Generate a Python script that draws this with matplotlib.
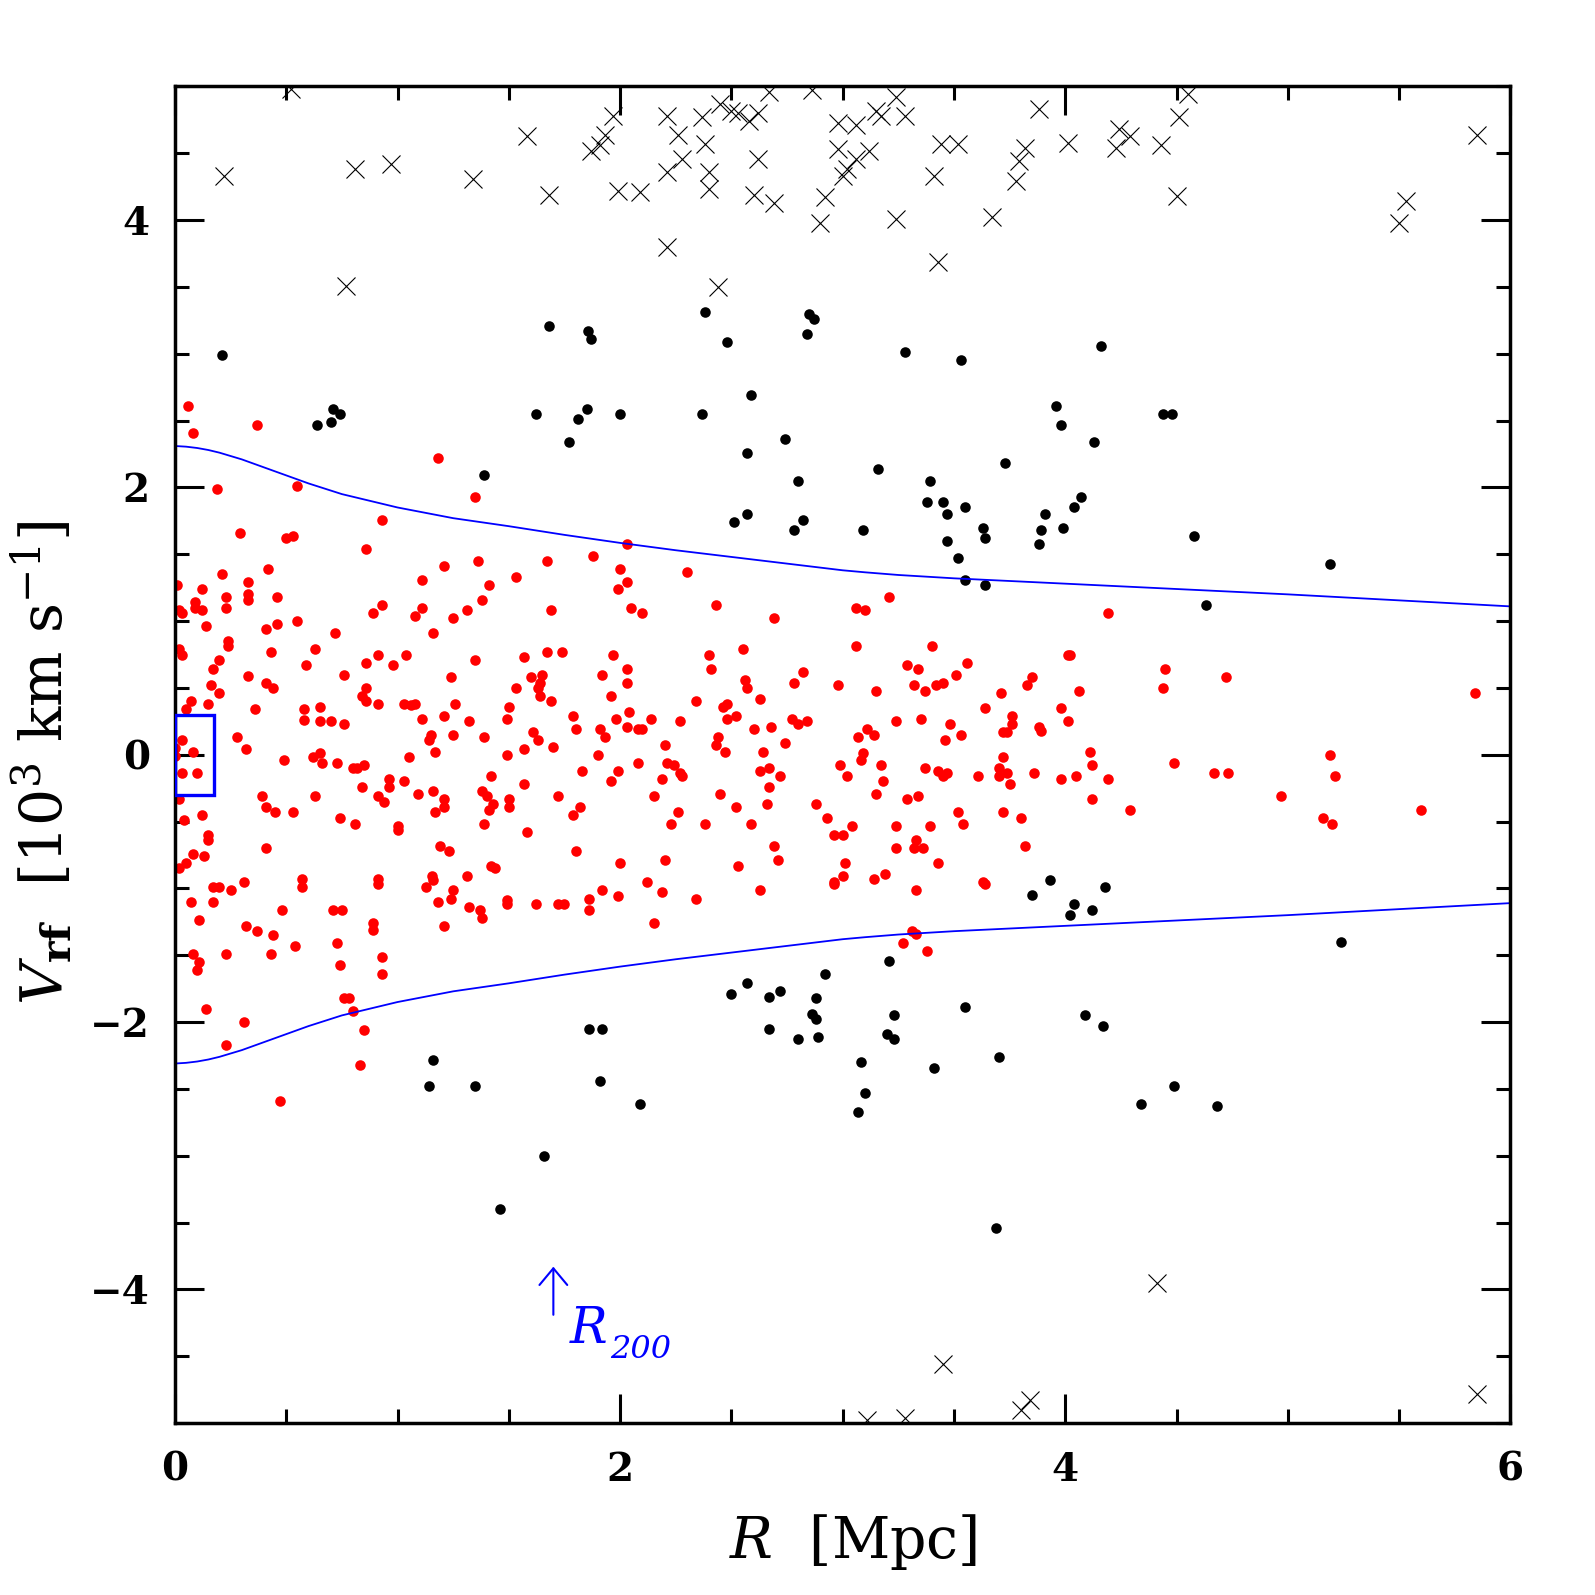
import matplotlib
matplotlib.use("Agg")
import matplotlib.pyplot as plt
from matplotlib.patches import Rectangle
from matplotlib.ticker import MultipleLocator
import numpy as np

plt.rcParams['mathtext.fontset'] = 'dejavuserif'
plt.rcParams['font.family'] = ['DejaVu Serif']

# ---------------- data ----------------
# members (red)
red_pts = [
    (0.06,2.61),(0.08,2.41),(0.37,2.47),(0.19,1.99),(0.55,2.01),(1.18,2.22),(1.35,1.93),(0.93,1.76),
    (0.29,1.66),(0.50,1.62),(0.53,1.64),(0.86,1.54),(1.88,1.49),(1.67,1.45),(1.36,1.45),(1.21,1.41),
    (2.00,1.39),(1.99,1.24),(0.21,1.35),(0.42,1.39),(0.33,1.29),(0.01,1.27),(0.12,1.24),(1.11,1.31),
    (1.41,1.27),(1.53,1.33),(0.23,1.18),(0.33,1.20),(0.33,1.16),(0.46,1.18),(0.09,1.14),(0.09,1.10),
    (0.12,1.08),(0.23,1.10),(0.02,1.08),(0.03,1.06),(1.38,1.16),(1.31,1.08),(1.25,1.02),(1.69,1.08),
    (0.93,1.12),(0.89,1.06),(1.11,1.10),(1.08,1.04),(0.14,0.96),(0.55,1.00),(0.41,0.94),(0.46,0.98),
    (0.72,0.91),(1.16,0.91),(0.24,0.85),(0.24,0.81),(0.02,0.79),(0.03,0.75),(0.20,0.71),(0.17,0.64),
    (0.43,0.77),(0.63,0.79),(0.59,0.67),(0.86,0.69),(0.91,0.75),(0.98,0.67),(1.04,0.75),(0.76,0.60),
    (1.35,0.71),(1.24,0.58),(1.57,0.73),(1.67,0.77),(1.74,0.77),(1.97,0.75),(1.60,0.58),(1.65,0.60),
    (1.64,0.54),(1.63,0.50),(1.64,0.44),(1.92,0.60),(1.53,0.50),(1.69,0.40),(1.96,0.44),(0.33,0.59),
    (0.41,0.54),(0.44,0.50),(0.16,0.52),(0.20,0.46),(0.07,0.40),(0.15,0.38),(0.86,0.50),(0.84,0.44),
    (0.86,0.40),(0.91,0.38),(1.03,0.38),(1.06,0.37),(1.08,0.38),(1.26,0.38),(1.50,0.36),(0.65,0.36),
    (0.58,0.34),(0.36,0.34),(0.05,0.34),
    (0.58,0.26),(0.65,0.25),(0.70,0.25),(0.76,0.23),(1.11,0.27),(1.21,0.29),(1.32,0.25),(1.49,0.27),
    (1.79,0.29),(1.98,0.27),(1.80,0.19),(1.91,0.19),(1.93,0.13),(0.28,0.13),(0.32,0.04),(0.03,0.11),
    (0.00,0.05),(0.00,-0.01),(0.08,0.02),(0.03,-0.14),(0.10,-0.14),(0.49,-0.04),(0.62,-0.02),(0.65,0.01),
    (0.66,-0.06),(0.73,-0.06),(0.80,-0.10),(0.82,-0.10),(0.85,-0.08),(1.05,-0.02),(1.14,0.11),(1.15,0.15),
    (1.17,0.02),(1.25,0.15),(1.39,0.13),(1.49,0.00),(1.57,0.04),(1.61,0.17),(1.63,0.11),(1.70,0.06),
    (1.90,0.00),(1.99,-0.12),(1.83,-0.12),(1.96,-0.20),(1.42,-0.16),(1.57,-0.22),(0.96,-0.18),(0.96,-0.24),
    (1.03,-0.20),(0.84,-0.24),(1.09,-0.29),(1.16,-0.27),(1.21,-0.33),(1.21,-0.39),(1.17,-0.43),(1.38,-0.27),
    (1.40,-0.31),(1.43,-0.37),(1.41,-0.41),(1.50,-0.33),(1.50,-0.39),(1.72,-0.31),(1.82,-0.39),(1.79,-0.45),
    (1.39,-0.52),(1.58,-0.58),(0.91,-0.31),(0.94,-0.35),(0.63,-0.31),(0.39,-0.31),(0.41,-0.39),(0.45,-0.43),
    (0.53,-0.43),(0.02,-0.33),(0.04,-0.49),(0.12,-0.45),(0.74,-0.47),(0.81,-0.52),(1.00,-0.53),(1.00,-0.56),
    (0.15,-0.60),(0.15,-0.64),(0.41,-0.70),(1.19,-0.68),(1.23,-0.72),(1.80,-0.72),(0.08,-0.74),(0.05,-0.81),
    (0.13,-0.76),(0.02,-0.85),(1.42,-0.83),(1.44,-0.85),(2.00,-0.81),(0.57,-0.93),(0.57,-0.99),(0.91,-0.93),
    (0.91,-0.97),(0.31,-0.95),(0.17,-0.99),(0.20,-0.99),(0.25,-1.01),(0.07,-1.10),(0.17,-1.10),(0.48,-1.16),
    (0.71,-1.16),(0.75,-1.16),(1.155,-0.91),(1.16,-0.94),(1.13,-0.99),(1.31,-0.91),(1.25,-1.01),(1.24,-1.08),
    (1.18,-1.10),(1.32,-1.14),(1.37,-1.16),(1.38,-1.22),(1.49,-1.09),(1.49,-1.12),(1.62,-1.12),(1.72,-1.12),
    (1.75,-1.12),(1.86,-1.08),(1.86,-1.16),(1.92,-1.01),(1.99,-1.06),(1.21,-1.28),(0.11,-1.24),(0.32,-1.28),
    (0.37,-1.32),(0.44,-1.35),(0.54,-1.43),(0.89,-1.26),(0.89,-1.31),(0.73,-1.41),(0.08,-1.49),(0.11,-1.55),
    (0.10,-1.61),(0.23,-1.49),(0.43,-1.49),(0.74,-1.57),(0.93,-1.51),(0.93,-1.64),(0.76,-1.82),(0.78,-1.82),
    (0.80,-1.92),(0.14,-1.90),(0.31,-2.00),(0.85,-2.06),(0.23,-2.17),(0.83,-2.32),(0.47,-2.59),
    (2.03,1.58),(2.03,1.29),(2.05,1.10),(2.10,1.06),(2.30,1.37),(2.43,1.12),(2.69,1.02),(3.06,1.10),
    (3.10,1.08),(3.21,1.18),(3.06,0.81),(3.40,0.81),(2.40,0.75),(2.41,0.64),(2.55,0.79),(2.56,0.56),
    (2.57,0.50),(2.82,0.62),(2.78,0.54),(2.98,0.52),(3.15,0.48),(3.29,0.67),(3.34,0.64),(3.32,0.52),
    (3.37,0.48),(3.42,0.52),(3.45,0.54),(3.51,0.60),(3.56,0.69),(3.71,0.46),(3.85,0.58),(3.83,0.52),
    (4.01,0.75),(2.03,0.64),(2.03,0.54),(2.34,0.40),(2.46,0.36),(2.48,0.38),(2.63,0.42),(3.64,0.35),
    (3.98,0.35),
    (2.52,0.29),(2.04,0.32),(2.03,0.21),(2.08,0.19),(2.10,0.19),(2.14,0.27),(2.27,0.25),(2.48,0.27),
    (2.44,0.13),(2.43,0.07),(2.47,0.02),(2.60,0.19),(2.68,0.21),(2.77,0.27),(2.80,0.23),(2.84,0.25),
    (2.74,0.09),(2.64,0.02),(2.20,0.07),(2.08,-0.06),(2.21,-0.06),(2.24,-0.08),(2.27,-0.14),(2.28,-0.16),
    (2.19,-0.18),(2.15,-0.31),(2.45,-0.29),(2.63,-0.12),(2.67,-0.10),(2.72,-0.16),(2.67,-0.24),(2.66,-0.37),
    (2.52,-0.39),(2.26,-0.43),(2.23,-0.52),(2.38,-0.52),(2.59,-0.52),(2.69,-0.68),(2.71,-0.79),(2.53,-0.83),
    (2.20,-0.79),(2.12,-0.95),(2.19,-1.03),(2.34,-1.08),(2.63,-1.01),(2.15,-1.26),(2.88,-0.37),(2.93,-0.47),
    (2.96,-0.60),(3.00,-0.60),(3.04,-0.53),(2.99,-0.08),(3.02,-0.16),(3.07,0.13),(3.11,0.19),(3.14,0.15),
    (3.09,0.01),(3.08,-0.04),(3.17,-0.08),(3.18,-0.20),(3.15,-0.29),(3.24,0.25),(3.35,0.27),(3.29,-0.33),
    (3.34,-0.31),(3.24,-0.53),(3.39,-0.53),(3.33,-0.64),(3.32,-0.70),(3.36,-0.70),(3.24,-0.70),(3.43,-0.81),
    (3.37,-0.10),(3.48,0.23),(3.53,0.15),(3.46,0.11),(3.43,-0.12),(3.45,-0.16),(3.47,-0.14),(3.61,-0.16),
    (3.76,0.29),(3.76,0.23),(3.72,0.17),(3.74,0.17),(3.88,0.21),(3.89,0.18),(4.01,0.25),(3.72,-0.02),
    (3.70,-0.10),(3.70,-0.16),(3.74,-0.14),(3.75,-0.22),(3.86,-0.14),(3.98,-0.18),(3.52,-0.43),(3.54,-0.52),
    (3.72,-0.43),(3.80,-0.47),(3.82,-0.68),(3.01,-0.81),(3.00,-0.91),(2.96,-0.95),(2.96,-0.97),(3.14,-0.93),
    (3.19,-0.89),(3.33,-1.01),(3.63,-0.95),(3.64,-0.97),(3.31,-1.32),(3.33,-1.34),(3.27,-1.41),(3.38,-1.47),
    (4.19,1.06),(4.02,0.75),(4.06,0.48),(4.45,0.64),(4.44,0.50),(4.72,0.58),(5.84,0.46),(4.11,0.02),
    (4.12,-0.08),(4.05,-0.16),(4.19,-0.18),(4.12,-0.33),(4.29,-0.41),(4.49,-0.06),(4.67,-0.14),(4.73,-0.14),
    (4.97,-0.31),(5.19,0.00),(5.21,-0.16),(5.16,-0.47),(5.20,-0.52),(5.60,-0.41),
]
red_R = [p[0] for p in red_pts]
red_V = [p[1] for p in red_pts]

# interlopers (black dots)
black_pts = [
    (0.21,2.99),(0.64,2.47),(0.70,2.49),(0.71,2.59),(0.74,2.55),(1.39,2.09),(1.68,3.21),(1.855,3.17),
    (1.87,3.11),(1.62,2.55),(1.85,2.59),(1.81,2.51),(1.77,2.34),(2.00,2.55),(2.38,3.31),(2.48,3.09),
    (2.37,2.55),(2.59,2.69),(2.57,2.26),(2.74,2.36),(2.51,1.74),(2.57,1.80),(2.80,2.05),(2.85,3.30),
    (2.87,3.26),(2.84,3.15),(2.82,1.76),(2.78,1.68),(3.28,3.01),(3.16,2.14),(3.09,1.68),(3.53,2.95),
    (3.39,2.05),(3.38,1.89),(3.45,1.89),(3.47,1.80),(3.55,1.85),(3.47,1.60),(3.52,1.47),(3.55,1.31),
    (3.63,1.70),(3.64,1.62),(3.64,1.27),(3.73,2.18),(3.96,2.61),(3.98,2.47),(4.16,3.06),(4.13,2.34),
    (4.07,1.93),(4.04,1.85),(3.99,1.70),(3.91,1.80),(3.89,1.68),(3.88,1.58),(4.44,2.55),(4.48,2.55),
    (4.58,1.64),(4.63,1.12),(5.19,1.43),
    (3.85,-1.05),(3.93,-0.94),(4.02,-1.20),(4.04,-1.12),(4.12,-1.16),(4.18,-0.99),(5.24,-1.40),(3.21,-1.54),
    (2.92,-1.64),(2.50,-1.79),(2.57,-1.71),(2.67,-1.81),(2.72,-1.77),(2.88,-1.82),(2.86,-1.94),(2.88,-1.98),
    (2.67,-2.05),(2.80,-2.13),(2.89,-2.11),(3.23,-1.95),(3.20,-2.09),(3.23,-2.13),(3.55,-1.89),(1.86,-2.05),
    (1.92,-2.05),(3.08,-2.30),(3.41,-2.34),(3.70,-2.26),(4.09,-1.95),(4.17,-2.03),(1.16,-2.28),(1.14,-2.48),
    (1.35,-2.48),(1.91,-2.44),(2.09,-2.61),(3.10,-2.53),(3.07,-2.67),(4.34,-2.61),(4.49,-2.48),(4.68,-2.63),
    (1.66,-3.00),(1.46,-3.40),(3.69,-3.54),
]
black_R = [p[0] for p in black_pts]
black_V = [p[1] for p in black_pts]

# far interlopers (crosses)
cross_pts = [
    (0.52,4.98),(0.22,4.33),(0.81,4.38),(0.97,4.42),(0.77,3.51),(1.34,4.31),(1.58,4.63),(1.68,4.19),
    (1.97,4.78),(1.93,4.64),(1.91,4.56),(1.87,4.52),(1.99,4.22),(2.09,4.21),(2.21,4.78),(2.26,4.64),
    (2.37,4.77),(2.38,4.57),(2.45,4.87),(2.50,4.82),(2.53,4.80),(2.62,4.80),(2.58,4.74),(2.28,4.46),
    (2.21,4.36),(2.40,4.36),(2.40,4.23),(2.21,3.80),(2.62,4.46),(2.60,4.19),(2.69,4.13),(2.90,3.98),
    (2.92,4.17),(2.44,3.50),(2.67,4.96),(2.86,4.97),(2.98,4.73),(3.06,4.71),(2.98,4.53),(3.12,4.52),
    (3.06,4.46),(3.02,4.38),(3.00,4.33),(3.15,4.82),(3.17,4.78),(3.24,4.92),(3.28,4.78),(3.41,4.33),
    (3.43,3.69),(3.24,4.01),(3.44,4.57),(3.52,4.57),(3.67,4.02),(3.82,4.54),(3.79,4.44),(3.78,4.29),
    (3.88,4.83),(4.01,4.58),(4.24,4.68),(4.29,4.63),(4.23,4.54),(4.43,4.56),(4.51,4.77),(4.55,4.94),
    (4.50,4.18),(5.53,4.14),(5.50,3.98),(5.85,4.64),
    (4.41,-3.95),(3.45,-4.56),(5.85,-4.78),(3.84,-4.83),(3.80,-4.90),(3.28,-4.96),(3.11,-4.98),
]
cross_R = [p[0] for p in cross_pts]
cross_V = [p[1] for p in cross_pts]

# caustic amplitude
caustic_R = [0.0, 0.05, 0.1, 0.15, 0.2, 0.3, 0.4, 0.5, 0.6, 0.75, 0.85, 1.0, 1.25, 1.5, 1.75,
             2.0, 2.25, 2.5, 2.75, 2.9, 3.0, 3.1, 3.25, 3.5, 3.75, 4.0, 4.5, 5.0, 5.5, 6.0]
caustic_A = [2.31, 2.305, 2.295, 2.28, 2.26, 2.21, 2.15, 2.09, 2.03, 1.95, 1.91, 1.85, 1.77, 1.71, 1.645,
             1.585, 1.53, 1.48, 1.43, 1.40, 1.38, 1.365, 1.345, 1.32, 1.30, 1.28, 1.24, 1.20, 1.155, 1.11]

R200 = 1.70

# ---------------- figure ----------------
fig = plt.figure(figsize=(15.95, 15.95), dpi=100)
ax = fig.add_axes([0.1097, 0.1078, 0.8373, 0.838])

ax.plot(cross_R, cross_V, linestyle='none', marker='x', markersize=13,
        markeredgewidth=0.8, color='black')
ax.plot(black_R, black_V, linestyle='none', marker='o', markersize=7.6,
        markeredgewidth=0, color='black')
ax.plot(red_R, red_V, linestyle='none', marker='o', markersize=7.6,
        markeredgewidth=0, color='#ff0000')

cR = np.array(caustic_R)
cA = np.array(caustic_A)
ax.plot(cR, cA, color='#0000ff', lw=1.3)
ax.plot(cR, -cA, color='#0000ff', lw=1.3)

ax.add_patch(Rectangle((0.0, -0.30), 0.175, 0.60, fill=False,
                       edgecolor='#0000ff', lw=2.4, zorder=5))

ax.annotate('', xy=(R200, -3.83), xytext=(R200, -4.19),
            arrowprops=dict(arrowstyle='->,head_length=0.6,head_width=0.5',
                            color='#0000ff', lw=1.5, mutation_scale=20,
                            shrinkA=0, shrinkB=0))
ax.text(1.775, -4.40, 'R', color='#0000ff', fontsize=36, style='italic',
        family='DejaVu Serif', ha='left', va='baseline')
ax.text(1.954, -4.51, '200', color='#0000ff', fontsize=23, style='italic',
        family='DejaVu Serif', ha='left', va='baseline')

ax.set_xlim(0, 6)
ax.set_ylim(-5, 5)
ax.xaxis.set_major_locator(MultipleLocator(2))
ax.xaxis.set_minor_locator(MultipleLocator(0.5))
ax.yaxis.set_major_locator(MultipleLocator(2))
ax.yaxis.set_minor_locator(MultipleLocator(0.5))
ax.tick_params(which='both', direction='in', top=True, right=True, width=2.2)
ax.tick_params(which='major', length=21)
ax.tick_params(which='minor', length=10)
ax.tick_params(axis='x', which='major', pad=20)
ax.tick_params(axis='y', which='major', pad=18)
for lab in ax.get_xticklabels() + ax.get_yticklabels():
    lab.set_fontsize(28)
    lab.set_fontweight('bold')
    lab.set_family('DejaVu Serif')
for sp in ax.spines.values():
    sp.set_linewidth(2.5)

fig.text(0.535, 0.023, r'$R\ \ \mathrm{[Mpc]}$', fontsize=41,
         ha='center', va='baseline')
fig.text(0.026, 0.522, r'$V_{\mathbf{rf}}\ \ \mathrm{[10^3\ km\ s^{-1}]}$', fontsize=42,
         rotation=90, ha='center', va='center')

fig.savefig('out.png', dpi=100)
